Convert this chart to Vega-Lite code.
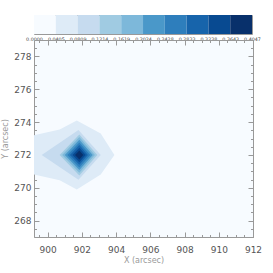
{
 "$schema": "https://vega.github.io/schema/vega-lite/v6.json",
 "padding": {"top": 14, "left": 1, "right": 5, "bottom": 5},
 "background": "white",
 "config": {"font": "DejaVu Sans", "axis": {"grid": false, "labelFont": "DejaVu Sans", "titleFont": "DejaVu Sans"}},
 "bounds": "flush",
 "spacing": 6,
 "vconcat": [
  {
   "width": 218, "height": 19,
   "view": {"stroke": "#999", "strokeWidth": 1},
   "data": {"values": [
    {"lo": 0.0000, "hi": 0.0405, "idx": 0},
    {"lo": 0.0405, "hi": 0.0809, "idx": 1},
    {"lo": 0.0809, "hi": 0.1214, "idx": 2},
    {"lo": 0.1214, "hi": 0.1619, "idx": 3},
    {"lo": 0.1619, "hi": 0.2024, "idx": 4},
    {"lo": 0.2024, "hi": 0.2428, "idx": 5},
    {"lo": 0.2428, "hi": 0.2833, "idx": 6},
    {"lo": 0.2833, "hi": 0.3238, "idx": 7},
    {"lo": 0.3238, "hi": 0.3643, "idx": 8},
    {"lo": 0.3643, "hi": 0.4047, "idx": 9}
   ]},
   "mark": {"type": "rect"},
   "encoding": {
    "x": {"field": "lo", "type": "quantitative",
     "scale": {"domain": [0, 0.4047], "nice": false, "zero": false},
     "axis": {"values": [0, 0.0405, 0.0809, 0.1214, 0.1619, 0.2024, 0.2428, 0.2833, 0.3238, 0.3643, 0.4047],
      "format": ".4f", "labelFontSize": 4.8, "ticks": false, "domain": false, "title": null,
      "labelPadding": 2, "labelColor": "#444", "labelOverlap": false, "labelFlush": false}},
    "x2": {"field": "hi"},
    "color": {"field": "idx", "type": "ordinal",
     "scale": {"domain": [0,1,2,3,4,5,6,7,8,9],
      "range": ["#f7fbff","#deebf7","#c6dbef","#a0cbe2","#7db8da","#4a98c9","#2e7ebc","#1764ab","#084a91","#08306b"]},
     "legend": null}
   }
  },
  {
   "width": 219, "height": 197,
   "view": {"fill": "#f7fbff", "stroke": null},
   "data": {"values": [
    {"level": 1, "x": 898.5, "ylo": 271.3, "yhi": 272.7},
    {"level": 1, "x": 899.2, "ylo": 270.8, "yhi": 273.2},
    {"level": 1, "x": 900.7, "ylo": 270.45, "yhi": 273.55},
    {"level": 1, "x": 901.7, "ylo": 269.9, "yhi": 274.1},
    {"level": 1, "x": 903.1, "ylo": 270.8, "yhi": 273.3},
    {"level": 1, "x": 903.9, "ylo": 272.0, "yhi": 272.0},
    {"level": 2, "x": 899.65, "ylo": 272.0, "yhi": 272.0},
    {"level": 2, "x": 901.8, "ylo": 270.48, "yhi": 273.52},
    {"level": 2, "x": 903.1, "ylo": 272.0, "yhi": 272.0},
    {"level": 3, "x": 900.70, "ylo": 272.0, "yhi": 272.0},
    {"level": 3, "x": 901.85, "ylo": 270.75, "yhi": 273.25},
    {"level": 3, "x": 902.90, "ylo": 272.0, "yhi": 272.0},
    {"level": 4, "x": 900.85, "ylo": 272.0, "yhi": 272.0},
    {"level": 4, "x": 901.85, "ylo": 270.91, "yhi": 273.09},
    {"level": 4, "x": 902.76, "ylo": 272.0, "yhi": 272.0},
    {"level": 5, "x": 901.0, "ylo": 272.0, "yhi": 272.0},
    {"level": 5, "x": 901.85, "ylo": 271.075, "yhi": 272.925},
    {"level": 5, "x": 902.63, "ylo": 272.0, "yhi": 272.0},
    {"level": 6, "x": 901.15, "ylo": 272.0, "yhi": 272.0},
    {"level": 6, "x": 901.85, "ylo": 271.24, "yhi": 272.76},
    {"level": 6, "x": 902.49, "ylo": 272.0, "yhi": 272.0},
    {"level": 7, "x": 901.30, "ylo": 272.0, "yhi": 272.0},
    {"level": 7, "x": 901.85, "ylo": 271.4, "yhi": 272.6},
    {"level": 7, "x": 902.35, "ylo": 272.0, "yhi": 272.0},
    {"level": 8, "x": 901.45, "ylo": 272.0, "yhi": 272.0},
    {"level": 8, "x": 901.85, "ylo": 271.56, "yhi": 272.44},
    {"level": 8, "x": 902.22, "ylo": 272.0, "yhi": 272.0},
    {"level": 9, "x": 901.60, "ylo": 272.0, "yhi": 272.0},
    {"level": 9, "x": 901.85, "ylo": 271.725, "yhi": 272.275},
    {"level": 9, "x": 902.08, "ylo": 272.0, "yhi": 272.0}
   ]},
   "layer": [
    {
     "mark": {"type": "area", "clip": true, "interpolate": "linear", "orient": "vertical"},
     "encoding": {
      "x": {"field": "x", "type": "quantitative",
       "scale": {"domain": [899.2, 912], "nice": false, "zero": false},
       "axis": {"orient": "bottom", "values": [900, 902, 904, 906, 908, 910, 912], "format": "d",
        "tickSize": -5, "tickColor": "#999", "domainColor": "#999", "labelColor": "#555",
        "labelFontSize": 9, "labelPadding": 13, "labelFlush": false, "labelOverlap": false,
        "title": "X (arcsec)", "titleFontSize": 8, "titleColor": "#999", "titleFontWeight": "normal", "titlePadding": 2}},
      "y": {"field": "ylo", "type": "quantitative", "stack": null,
       "scale": {"domain": [267, 279], "nice": false, "zero": false},
       "axis": {"orient": "left", "values": [268, 270, 272, 274, 276, 278], "format": "d",
        "tickSize": -5, "tickColor": "#999", "domainColor": "#999", "labelColor": "#555",
        "labelFontSize": 9, "labelPadding": 8, "labelFlush": false, "labelOverlap": false,
        "title": "Y (arcsec)", "titleFontSize": 8, "titleColor": "#999", "titleFontWeight": "normal", "titlePadding": 4}},
      "y2": {"field": "yhi"},
      "color": {"field": "level", "type": "ordinal", "legend": null}
     }
    },
    {
     "mark": {"type": "point", "opacity": 0},
     "encoding": {
      "x": {"field": "x", "type": "quantitative",
       "axis": {"orient": "top", "values": [900, 902, 904, 906, 908, 910, 912], "labels": false, "title": null,
        "tickSize": -5, "tickColor": "#999", "domainColor": "#999"}},
      "y": {"field": "ylo", "type": "quantitative",
       "axis": {"orient": "right", "values": [268, 270, 272, 274, 276, 278], "labels": false, "title": null,
        "tickSize": -5, "tickColor": "#999", "domainColor": "#999"}}
     }
    },
    {
     "mark": {"type": "point", "opacity": 0},
     "encoding": {
      "x": {"field": "x", "type": "quantitative",
       "axis": {"orient": "bottom", "values": [899.5,900,900.5,901,901.5,902,902.5,903,903.5,904,904.5,905,905.5,906,906.5,907,907.5,908,908.5,909,909.5,910,910.5,911,911.5,912],
        "labels": false, "title": null, "domain": false, "tickSize": -2.5, "tickColor": "#999"}},
      "y": {"field": "ylo", "type": "quantitative",
       "axis": {"orient": "left", "values": [267,267.5,268,268.5,269,269.5,270,270.5,271,271.5,272,272.5,273,273.5,274,274.5,275,275.5,276,276.5,277,277.5,278,278.5,279],
        "labels": false, "title": null, "domain": false, "tickSize": -2.5, "tickColor": "#999"}}
     }
    },
    {
     "mark": {"type": "point", "opacity": 0},
     "encoding": {
      "x": {"field": "x", "type": "quantitative",
       "axis": {"orient": "top", "values": [899.5,900,900.5,901,901.5,902,902.5,903,903.5,904,904.5,905,905.5,906,906.5,907,907.5,908,908.5,909,909.5,910,910.5,911,911.5,912],
        "labels": false, "title": null, "domain": false, "tickSize": -2.5, "tickColor": "#999"}},
      "y": {"field": "ylo", "type": "quantitative",
       "axis": {"orient": "right", "values": [267,267.5,268,268.5,269,269.5,270,270.5,271,271.5,272,272.5,273,273.5,274,274.5,275,275.5,276,276.5,277,277.5,278,278.5,279],
        "labels": false, "title": null, "domain": false, "tickSize": -2.5, "tickColor": "#999"}}
     }
    }
   ],
   "resolve": {"axis": {"x": "independent", "y": "independent"}}
  }
 ]
}
